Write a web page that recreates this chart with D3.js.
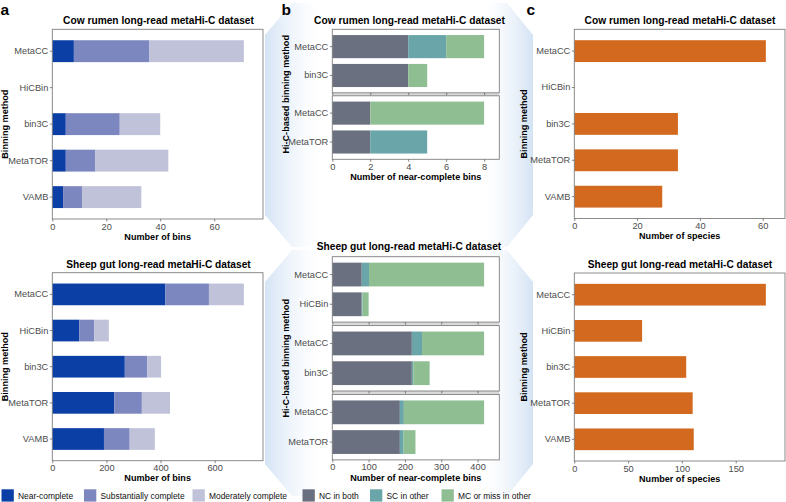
<!DOCTYPE html>
<html>
<head>
<meta charset="utf-8">
<script src="https://cdn.jsdelivr.net/npm/d3@7"></script>
<style>
  body { margin: 0; background: #fff; }
  svg text { font-family: "Liberation Sans", Arial, Helvetica, sans-serif; }
  svg text.bold { font-weight: bold; }
</style>
</head>
<body>
<svg id="chart" width="786" height="502"></svg>
<script>
const svg = d3.select('#chart');

// ---- data ----
const methods = ['MetaCC', 'HiCBin', 'bin3C', 'MetaTOR', 'VAMB'];
const qualityLevels = ['Near-complete', 'Substantially complete', 'Moderately complete'];
const overlapLevels = ['NC in both', 'SC in other', 'MC or miss in other'];

// panel a: bins per quality level
const cowNear = [8, 0, 5, 5, 4];
const cowSubst = [28, 0, 20, 11, 7];
const cowModer = [35, 0, 15, 27, 22];
const sheepNear = [418, 100, 268, 229, 191];
const sheepSubst = [161, 55, 83, 102, 95];
const sheepModer = [129, 54, 51, 104, 93];

// panel b: near-complete bins compared pairwise (MetaCC vs other)
const cowPairs = [['MetaCC', 'bin3C'], ['MetaCC', 'MetaTOR']];
const cowNcBoth = [[4, 4], [2, 2]];
const cowScOther = [[2, 0], [0, 3]];
const cowMcOther = [[2, 1], [6, 0]];
const sheepPairs = [['MetaCC', 'HiCBin'], ['MetaCC', 'bin3C'], ['MetaCC', 'MetaTOR']];
const sheepNcBoth = [[81, 81], [219, 219], [186, 186]];
const sheepScOther = [[20, 2], [28, 4], [11, 10]];
const sheepMcOther = [[317, 17], [171, 45], [221, 33]];

// panel c: number of species
const cowSpecies = [61, 0, 33, 33, 28];
const sheepSpecies = [178, 63, 104, 110, 111];

// tick labels
const ticksA1 = [0, 20, 40, 60];
const ticksA2 = [0, 200, 400, 600];
const ticksB1 = [0, 2, 4, 6, 8];
const ticksB2 = [0, 100, 200, 300, 400];
const ticksC1 = [0, 20, 40, 60];
const ticksC2 = [0, 50, 100, 150];

const qualityColors = ['#0b3fa6', '#7c86bf', '#bfc2d9'];
const overlapColors = ['#6b7080', '#6aa5a9', '#8fbe93'];
const speciesColor = '#d2691e';

// ---- font calibration: match the text widths seen in the figure ----
function measure(cls, txt) {
    const t = svg.append('text').attr('class', cls).style('font-size', '10px').text(txt);
    const w = t.node().getComputedTextLength();
    t.remove();
    return w;
}
const titleSize = 10 * 191 / measure('bold', 'Cow rumen long-read metaHi-C dataset');
const axisTitleSize = titleSize * 9.1 / 10.2;
const tickSize = 10 * 40 / measure('', 'MetaTOR');
const legendSize = 10 * 73 / measure('', 'MC or miss in other');

// ---- decorative callout shading between panels ----
const defs = svg.append('defs');
function fade(id, reverse) {
    const lg = defs.append('linearGradient').attr('id', id)
        .attr('x1', reverse ? 1 : 0).attr('x2', reverse ? 0 : 1).attr('y1', 0).attr('y2', 0);
    lg.append('stop').attr('offset', 0).attr('stop-color', '#c9dcf1').attr('stop-opacity', 0.8);
    lg.append('stop').attr('offset', 0.5).attr('stop-color', '#e2ecf8').attr('stop-opacity', 0.45);
    lg.append('stop').attr('offset', 1).attr('stop-color', '#ffffff').attr('stop-opacity', 0);
}
fade('fadeR', false);
fade('fadeL', true);

function shade(top, bottom) {
    const mid0 = top + 32, mid1 = bottom - 32;
    svg.append('polygon')
        .attr('points', [[292, top], [265, mid0], [265, mid1], [292, bottom], [325, bottom], [325, top]].join(' '))
        .attr('fill', 'url(#fadeR)');
    svg.append('polygon')
        .attr('points', [[507, top], [533, mid0], [533, mid1], [507, bottom], [478, bottom], [478, top]].join(' '))
        .attr('fill', 'url(#fadeL)');
}
shade(3, 247);
shade(250, 496);

// ---- helpers ----
function toRows(cats, cols, keys) {
    return cats.map((c, i) => {
        const r = { name: c };
        keys.forEach((k, j) => { r[k] = cols[j][i]; });
        return r;
    });
}

function frame(g, x0, x1, y0, y1) {
    g.append('rect')
        .attr('x', x0).attr('y', y0)
        .attr('width', x1 - x0).attr('height', y1 - y0)
        .attr('fill', 'none').attr('stroke', '#7f7f7f').attr('stroke-width', 0.9);
}

function styleAxis(a, showText) {
    a.select('.domain').remove();
    a.selectAll('line').attr('stroke', '#555').attr('stroke-width', 0.7);
    a.selectAll('text').attr('fill', '#4d4d4d').style('font-size', tickSize + 'px');
    if (!showText) a.selectAll('text').remove();
}

function xAxisAt(g, x, ticks, y, showText) {
    g.append('g').attr('transform', `translate(0,${y})`)
        .call(d3.axisBottom(x).tickValues(ticks).tickSize(2.5).tickPadding(1.5).tickFormat(d3.format('d')))
        .call(a => styleAxis(a, showText));
}

function yAxisAt(g, y, x0) {
    g.append('g').attr('transform', `translate(${x0},0)`)
        .call(d3.axisLeft(y).tickSize(2.5).tickPadding(1.5))
        .call(a => styleAxis(a, true));
}

function titles(g, o, bottom) {
    g.append('text').attr('class', 'bold')
        .attr('x', o.titleX).attr('y', o.y0 - o.titleGap)
        .attr('text-anchor', 'middle').style('font-size', titleSize + 'px')
        .text(o.title);
    g.append('text').attr('class', 'bold')
        .attr('x', (o.x0 + o.x1) / 2).attr('y', bottom + 20.6)
        .attr('text-anchor', 'middle').style('font-size', axisTitleSize + 'px')
        .text(o.xLabel);
    g.append('text').attr('class', 'bold')
        .attr('transform', `translate(${o.yLabelX},${(o.y0 + bottom) / 2}) rotate(-90)`)
        .attr('text-anchor', 'middle').style('font-size', axisTitleSize + 'px')
        .text(o.yLabel);
}

// stacked (or single) horizontal bars, one per method
function barPanel(o) {
    const g = svg.append('g');
    const rows = toRows(o.cats, o.cols, o.keys);
    const totals = rows.map(r => d3.sum(o.keys, k => r[k]));
    const x = d3.scaleLinear().domain([0, d3.max(totals) * 1.1]).range([o.x0, o.x1]);
    const y = d3.scaleBand().domain(o.cats).range([o.y0, o.y1]).paddingInner(0.4).paddingOuter(0.3);

    g.append('rect').attr('x', o.x0).attr('y', o.y0)
        .attr('width', o.x1 - o.x0).attr('height', o.y1 - o.y0).attr('fill', '#fff');

    const series = d3.stack().keys(o.keys)(rows);
    g.selectAll('.layer').data(series).join('g')
        .attr('class', 'layer')
        .attr('fill', (d, i) => o.colors[i])
        .selectAll('rect').data(d => d).join('rect')
        .attr('x', d => x(d[0]))
        .attr('width', d => x(d[1]) - x(d[0]))
        .attr('y', d => y(d.data.name))
        .attr('height', y.bandwidth());

    frame(g, o.x0, o.x1, o.y0, o.y1);
    xAxisAt(g, x, o.ticks, o.y1, true);
    yAxisAt(g, y, o.x0);
    titles(g, o, o.y1);
}

// faceted pairwise comparison panel
function facetPanel(o) {
    const g = svg.append('g');
    const keys = ['nc', 'sc', 'mc'];
    const totals = o.pairs.map((p, f) => p.map((_, i) => o.nc[f][i] + o.sc[f][i] + o.mc[f][i])).flat();
    const x = d3.scaleLinear().domain([0, d3.max(totals) * 1.1]).range([o.x0, o.x1]);
    const nF = o.pairs.length;
    const bottom = o.y0 + nF * o.facetH + (nF - 1) * o.gap;

    // grey strip between facets
    for (let f = 0; f < nF - 1; f++) {
        const ys = o.y0 + (f + 1) * o.facetH + f * o.gap;
        g.append('rect').attr('x', o.x0).attr('y', ys)
            .attr('width', o.x1 - o.x0).attr('height', o.gap).attr('fill', '#d9d9d9');
    }

    o.pairs.forEach((pair, f) => {
        const top = o.y0 + f * (o.facetH + o.gap);
        const bot = top + o.facetH;
        const fg = g.append('g');
        fg.append('rect').attr('x', o.x0).attr('y', top)
            .attr('width', o.x1 - o.x0).attr('height', o.facetH).attr('fill', '#fff');
        // pair labels repeat (MetaCC), so band on index
        const idx = pair.map((_, i) => i);
        const y = d3.scaleBand().domain(idx).range([top, bot]).paddingInner(0.2).paddingOuter(0.2);
        const rows = idx.map(i => ({ i: i, nc: o.nc[f][i], sc: o.sc[f][i], mc: o.mc[f][i] }));
        const series = d3.stack().keys(keys)(rows);
        fg.selectAll('.layer').data(series).join('g')
            .attr('class', 'layer')
            .attr('fill', (d, k) => overlapColors[k])
            .selectAll('rect').data(d => d).join('rect')
            .attr('x', d => x(d[0]))
            .attr('width', d => x(d[1]) - x(d[0]))
            .attr('y', d => y(d.data.i))
            .attr('height', y.bandwidth());
        frame(fg, o.x0, o.x1, top, bot);
        xAxisAt(fg, x, o.ticks, bot, f === nF - 1);
        fg.append('g').attr('transform', `translate(${o.x0},0)`)
            .call(d3.axisLeft(y).tickSize(2.5).tickPadding(1.5).tickFormat(i => pair[i]))
            .call(a => styleAxis(a, true));
    });
    titles(g, o, bottom);
}

// ---- panels ----
const qKeys = ['near', 'subst', 'moder'];

barPanel({
    cats: methods, keys: qKeys, cols: [cowNear, cowSubst, cowModer], colors: qualityColors,
    x0: 52.3, x1: 263, y0: 29.3, y1: 219, ticks: ticksA1,
    title: 'Cow rumen long-read metaHi-C dataset', titleX: 158.5, titleGap: 5,
    xLabel: 'Number of bins', yLabel: 'Binning method', yLabelX: 8.3
});
barPanel({
    cats: methods, keys: qKeys, cols: [sheepNear, sheepSubst, sheepModer], colors: qualityColors,
    x0: 52.3, x1: 263, y0: 272.7, y1: 460.7, ticks: ticksA2,
    title: 'Sheep gut long-read metaHi-C dataset', titleX: 158.5, titleGap: 5,
    xLabel: 'Number of bins', yLabel: 'Binning method', yLabelX: 8.3
});

facetPanel({
    pairs: cowPairs, nc: cowNcBoth, sc: cowScOther, mc: cowMcOther,
    x0: 332.3, x1: 499.3, y0: 29.3, facetH: 63.5, gap: 3, ticks: ticksB1,
    title: 'Cow rumen long-read metaHi-C dataset', titleX: 409.5, titleGap: 5,
    xLabel: 'Number of near-complete bins', yLabel: 'Hi-C-based binning method', yLabelX: 289.3
});
facetPanel({
    pairs: sheepPairs, nc: sheepNcBoth, sc: sheepScOther, mc: sheepMcOther,
    x0: 332.3, x1: 499.3, y0: 256.7, facetH: 65.4, gap: 3.5, ticks: ticksB2,
    title: 'Sheep gut long-read metaHi-C dataset', titleX: 409, titleGap: 7,
    xLabel: 'Number of near-complete bins', yLabel: 'Hi-C-based binning method', yLabelX: 289.3
});

barPanel({
    cats: methods, keys: ['species'], cols: [cowSpecies], colors: [speciesColor],
    x0: 574.3, x1: 785, y0: 29.3, y1: 218.5, ticks: ticksC1,
    title: 'Cow rumen long-read metaHi-C dataset', titleX: 680, titleGap: 5,
    xLabel: 'Number of species', yLabel: 'Binning method', yLabelX: 527.3
});
barPanel({
    cats: methods, keys: ['species'], cols: [sheepSpecies], colors: [speciesColor],
    x0: 574.3, x1: 785, y0: 273, y1: 461, ticks: ticksC2,
    title: 'Sheep gut long-read metaHi-C dataset', titleX: 680, titleGap: 5,
    xLabel: 'Number of species', yLabel: 'Binning method', yLabelX: 527.3
});

// ---- panel letters ----
[['a', 0.5], ['b', 281.5], ['c', 526.5]].forEach(([t, x]) => {
    svg.append('text').attr('class', 'bold').attr('x', x).attr('y', 14.5)
        .style('font-size', '15.5px').text(t);
});

// ---- legend ----
const legendLabels = qualityLevels.concat(overlapLevels);
const legendColors = qualityColors.concat(overlapColors);
const legendX = [1.5, 84, 192.5, 302.5, 370, 441.5];
const legend = svg.append('g').selectAll('g').data(legendLabels).join('g')
    .attr('transform', (d, i) => `translate(${legendX[i]},489.3)`);
legend.append('rect').attr('width', 12.3).attr('height', 12.3)
    .attr('fill', (d, i) => legendColors[i]);
legend.append('text').attr('x', 16.5).attr('y', 9.3)
    .style('font-size', legendSize + 'px').attr('fill', '#111').text(d => d);
</script>
</body>
</html>
